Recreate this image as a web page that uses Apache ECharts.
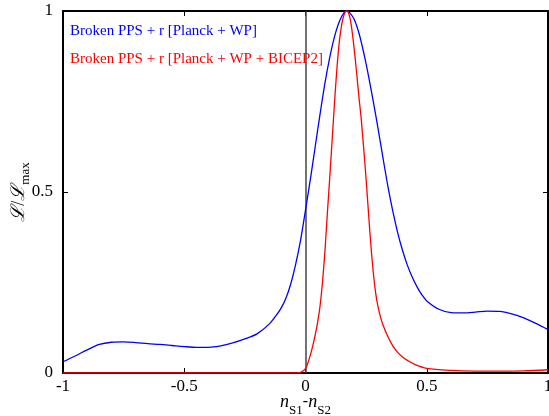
<!DOCTYPE html>
<html>
<head>
<meta charset="utf-8">
<script src="https://cdn.jsdelivr.net/npm/echarts@6/dist/echarts.min.js"></script>
<style>
html,body{margin:0;padding:0;background:#fff;}
#chart{width:549px;height:416px;}
</style>
</head>
<body>
<div id="chart"></div>
<script>
// Series names
var seriesNames = ['Broken PPS + r [Planck + WP]', 'Broken PPS + r [Planck + WP + BICEP2]'];

// Blue curve: Planck + WP
var blueX = [-1.00,-0.95,-0.90,-0.85,-0.80,-0.75,-0.70,-0.65,-0.60,-0.55,-0.50,-0.45,-0.40,-0.35,-0.30,-0.25,-0.20,-0.15,-0.12,-0.10,-0.08,-0.06,-0.04,-0.02,0.00,0.02,0.04,0.06,0.08,0.10,0.12,0.14,0.16,0.17,0.18,0.20,0.22,0.24,0.26,0.28,0.30,0.32,0.34,0.36,0.38,0.40,0.42,0.44,0.46,0.48,0.50,0.55,0.60,0.65,0.70,0.75,0.80,0.85,0.90,0.95,1.00];
var blueY = [0.031,0.047,0.064,0.079,0.085,0.086,0.084,0.081,0.079,0.076,0.073,0.071,0.071,0.075,0.083,0.094,0.108,0.135,0.160,0.180,0.208,0.248,0.302,0.368,0.450,0.535,0.625,0.715,0.800,0.872,0.930,0.972,0.996,1.000,0.997,0.978,0.940,0.885,0.820,0.748,0.672,0.592,0.515,0.447,0.388,0.339,0.298,0.265,0.238,0.216,0.199,0.176,0.167,0.166,0.168,0.171,0.170,0.163,0.152,0.137,0.120];

// Red curve: Planck + WP + BICEP2
var redX = [-1.00,-0.50,-0.05,-0.02,0.00,0.01,0.02,0.03,0.04,0.05,0.06,0.07,0.08,0.09,0.10,0.11,0.12,0.13,0.14,0.15,0.16,0.17,0.18,0.19,0.20,0.21,0.22,0.23,0.24,0.25,0.26,0.27,0.28,0.29,0.30,0.31,0.32,0.34,0.36,0.38,0.40,0.42,0.45,0.50,0.60,0.70,0.80,0.90,1.00];
var redY = [0.000,0.000,0.000,0.002,0.012,0.028,0.050,0.075,0.105,0.140,0.185,0.250,0.335,0.440,0.540,0.645,0.750,0.845,0.918,0.965,0.992,1.000,0.990,0.955,0.900,0.835,0.765,0.700,0.620,0.535,0.440,0.350,0.275,0.218,0.180,0.153,0.132,0.100,0.075,0.057,0.044,0.035,0.024,0.013,0.007,0.005,0.005,0.006,0.009];

// Axis ticks
var xTicks = [-1, -0.5, 0, 0.5, 1];
var yTicks = [0, 0.5, 1];

function pairs(xs, ys){ return xs.map(function(x,i){ return [x, ys[i]]; }); }

var serif = 'Liberation Serif, Times New Roman, serif';
var chart = echarts.init(document.getElementById('chart'), null, {renderer:'canvas'});

var axisLineStyle = {color:'#000', width:2};

chart.setOption({
  animation:false,
  backgroundColor:'#fff',
  grid:{left:63, right:1, top:11, bottom:43, containLabel:false, outerBoundsMode:'none'},
  legend:{
    orient:'vertical', left:65, top:24, itemGap:13, padding:0,
    icon:'none', itemWidth:0, itemHeight:14,
    textStyle:{fontFamily:serif, fontSize:15},
    data:[
      {name:seriesNames[0], textStyle:{color:'#0000ff'}},
      {name:seriesNames[1], textStyle:{color:'#ff0000'}}
    ]
  },
  xAxis:[{
    type:'value', min:xTicks[0], max:xTicks[xTicks.length-1], interval:0.5,
    position:'bottom',
    axisLine:{show:true, lineStyle:axisLineStyle, onZero:false},
    axisTick:{show:true, inside:true, length:5, lineStyle:{color:'#000', width:1}},
    splitLine:{show:false},
    axisLabel:{color:'#000', fontFamily:serif, fontSize:17, margin:5},
    name:'{n|n}{s|S1}{d|-}{n|n}{s|S2}',
    nameLocation:'middle', nameGap:18, nameMoveOverlap:false,
    nameTextStyle:{
      fontFamily:serif, color:'#000', verticalAlign:'top',
      rich:{
        n:{fontFamily:serif, fontStyle:'italic', fontSize:18, lineHeight:22, color:'#000'},
        d:{fontFamily:serif, fontSize:16, lineHeight:22, color:'#000'},
        s:{fontFamily:serif, fontSize:13, lineHeight:13, padding:[0,0,-4,0], verticalAlign:'bottom', color:'#000'}
      }
    }
  },{
    type:'value', min:xTicks[0], max:xTicks[xTicks.length-1], interval:0.5,
    position:'top',
    axisLine:{show:true, lineStyle:axisLineStyle, onZero:false},
    axisTick:{show:true, inside:true, length:5, lineStyle:{color:'#000', width:1}},
    axisLabel:{show:false}, splitLine:{show:false}
  }],
  yAxis:[{
    type:'value', min:yTicks[0], max:yTicks[yTicks.length-1], interval:0.5,
    position:'left',
    axisLine:{show:true, lineStyle:axisLineStyle, onZero:false},
    axisTick:{show:true, inside:true, length:5, lineStyle:{color:'#000', width:1}},
    splitLine:{show:false},
    axisLabel:{color:'#000', fontFamily:serif, fontSize:17, margin:10},
    name:'{m|ℒ}{d|/}{m|ℒ}{s|max}',
    nameLocation:'middle', nameGap:31, nameMoveOverlap:false,
    nameTextStyle:{
      fontFamily:serif, color:'#000',
      rich:{
        m:{fontFamily:serif, fontStyle:'italic', fontSize:19, lineHeight:26, color:'#000'},
        d:{fontFamily:serif, fontSize:18, lineHeight:26, color:'#000'},
        s:{fontFamily:serif, fontSize:13, lineHeight:13, verticalAlign:'bottom', color:'#000'}
      }
    }
  },{
    type:'value', min:yTicks[0], max:yTicks[yTicks.length-1], interval:0.5,
    position:'right',
    axisLine:{show:true, lineStyle:axisLineStyle, onZero:false},
    axisTick:{show:true, inside:true, length:5, lineStyle:{color:'#000', width:1}},
    axisLabel:{show:false}, splitLine:{show:false}
  }],
  series:[
    {
      name:seriesNames[0], type:'line', data:pairs(blueX, blueY),
      showSymbol:false, smooth:0.3, lineStyle:{color:'#0000ff', width:1.3},
      itemStyle:{color:'#0000ff'}, z:3,
      markLine:{
        silent:true, symbol:'none', label:{show:false},
        lineStyle:{color:'#444', width:1.5, type:'solid'},
        data:[{xAxis:0}], z:1
      }
    },
    {
      name:seriesNames[1], type:'line', data:pairs(redX, redY),
      showSymbol:false, smooth:0.3, lineStyle:{color:'#ff0000', width:1.3},
      itemStyle:{color:'#ff0000'}, z:4
    }
  ]
});
</script>
</body>
</html>
